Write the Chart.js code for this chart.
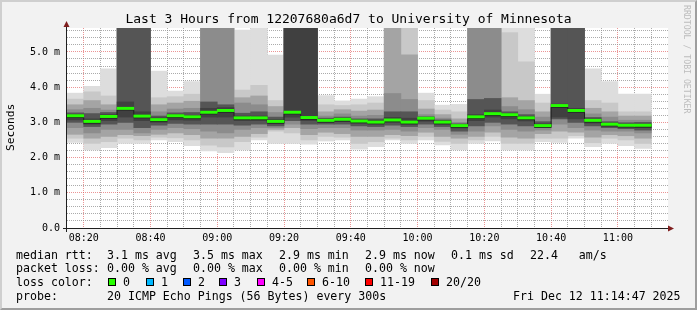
<!DOCTYPE html>
<html lang="en">
<head>
<meta charset="UTF-8">
<title>Last 3 Hours from 12207680a6d7 to University of Minnesota</title>
<script src="https://cdn.jsdelivr.net/npm/chart.js"></script>
<style>
  html, body { margin: 0; padding: 0; }
  body { width: 697px; height: 310px; background: #f2f2f2; position: relative; overflow: hidden;
         font-family: "DejaVu Sans Mono", monospace; color: #000; }
  #frame { position: absolute; left: 0; top: 0; width: 697px; height: 310px; box-sizing: border-box;
           border-top: 2px solid #cfcfcf; border-left: 2px solid #cfcfcf;
           border-right: 2px solid #9e9e9e; border-bottom: 2px solid #9e9e9e; }
  #smoke { position: absolute; left: 0; top: 0; }
  .t { position: absolute; white-space: pre; font-size: 11.6px; line-height: 14px; }
  .box { position: absolute; width: 6px; height: 6px; border: 1px solid #000; }
  #title { position: absolute; left: 0; width: 697px; top: 12px; text-align: center; font-size: 13px; line-height: 14px; white-space: pre; }
  #ylab { position: absolute; left: 5px; top: 103px; width: 12px; height: 48px; font-size: 11.2px; line-height: 12px;
          writing-mode: vertical-rl; transform: rotate(180deg); white-space: pre; color: #000; font-weight: normal; }
  #mark { position: absolute; left: 682px; top: 5px; font-size: 8.2px; line-height: 9px; color: #bdbdbd;
          writing-mode: vertical-rl; white-space: pre; }
</style>
</head>
<body>
<div id="frame"></div>
<canvas id="smoke" width="697" height="310"></canvas>
<div id="title">Last 3 Hours from 12207680a6d7 to University of Minnesota</div>
<div id="ylab">Seconds</div>
<div id="mark">RRDTOOL / TOBI OETIKER</div>

<div class="t" style="left:16px;top:248px">median rtt:</div>
<div class="t" style="left:107px;top:248px">3.1 ms avg</div>
<div class="t" style="left:193px;top:248px">3.5 ms max</div>
<div class="t" style="left:279px;top:248px">2.9 ms min</div>
<div class="t" style="left:365px;top:248px">2.9 ms now</div>
<div class="t" style="left:451px;top:248px">0.1 ms sd</div>
<div class="t" style="left:530px;top:248px">22.4   am/s</div>

<div class="t" style="left:16px;top:261px">packet loss:</div>
<div class="t" style="left:107px;top:261px">0.00 % avg</div>
<div class="t" style="left:193px;top:261px">0.00 % max</div>
<div class="t" style="left:279px;top:261px">0.00 % min</div>
<div class="t" style="left:365px;top:261px">0.00 % now</div>

<div class="t" style="left:16px;top:275px">loss color:</div>
<div id="losskey"></div>

<div class="t" style="left:16px;top:289px">probe:</div>
<div class="t" style="left:107px;top:289px">20 ICMP Echo Pings (56 Bytes) every 300s</div>
<div class="t" style="left:513px;top:289px">Fri Dec 12 11:14:47 2025</div>

<script>
// 5 minute slots (start time), median rtt in ms
const slots = ['08:15','08:20','08:25','08:30','08:35','08:40','08:45','08:50','08:55','09:00',
               '09:05','09:10','09:15','09:20','09:25','09:30','09:35','09:40','09:45','09:50',
               '09:55','10:00','10:05','10:10','10:15','10:20','10:25','10:30','10:35','10:40',
               '10:45','10:50','10:55','11:00','11:05'];
const median = [3.19,3.03,3.17,3.40,3.18,3.08,3.19,3.16,3.29,3.34,
                3.13,3.13,3.03,3.29,3.14,3.06,3.09,3.04,3.01,3.07,
                3.01,3.12,3.01,2.91,3.16,3.25,3.22,3.13,2.91,3.48,
                3.34,3.06,2.95,2.92,2.92];

// smoke bands, outer (lightest) to inner (darkest): low / high ping of each band
const b1Lo = [2.43,2.22,2.28,2.40,2.40,2.50,2.45,2.34,2.19,2.14,2.22,2.50,2.40,2.40,2.38,2.47,2.50,2.24,2.31,2.50,2.40,2.50,2.36,2.22,2.40,2.47,2.22,2.22,2.45,2.43,2.55,2.31,2.40,2.34,2.26];
const b1Hi = [3.83,4.02,4.52,6.00,6.00,4.46,3.89,4.16,6.00,6.00,5.62,6.00,4.91,6.00,6.00,3.76,3.61,3.66,3.73,6.00,6.00,3.83,3.49,3.51,6.00,6.00,6.00,6.00,3.80,6.00,6.00,4.52,4.16,3.80,3.80];
const b2Lo = [2.55,2.40,2.45,2.55,2.50,2.58,2.56,2.50,2.35,2.30,2.45,2.58,2.75,2.70,2.50,2.60,2.58,2.40,2.45,2.55,2.50,2.60,2.46,2.40,2.50,2.60,2.40,2.40,2.55,2.55,2.62,2.42,2.55,2.50,2.40];
const b2Hi = [3.66,3.87,3.75,6.00,6.00,3.70,3.73,3.80,6.00,6.00,3.92,4.05,3.62,6.00,6.00,3.50,3.48,3.50,3.55,6.00,6.00,3.62,3.35,3.30,6.00,6.00,5.55,4.72,3.55,6.00,6.00,3.62,3.55,3.30,3.30];
const b3Lo = [2.66,2.55,2.60,2.65,2.62,2.66,2.70,2.65,2.55,2.55,2.60,2.68,2.80,2.85,2.65,2.72,2.68,2.60,2.60,2.65,2.62,2.72,2.60,2.55,2.60,2.72,2.58,2.55,2.68,2.75,2.72,2.58,2.65,2.62,2.55];
const b3Hi = [3.50,3.62,3.50,6.00,6.00,3.50,3.55,3.60,6.00,6.00,3.70,3.75,3.45,6.00,6.00,3.30,3.36,3.32,3.35,6.00,4.92,3.38,3.22,3.10,6.00,6.00,3.70,3.62,3.30,6.00,6.00,3.40,3.30,3.18,3.18];
const b4Lo = [2.85,2.70,2.80,2.80,2.70,2.80,2.85,2.82,2.75,2.70,2.80,2.85,2.85,2.95,2.82,2.85,2.85,2.78,2.78,2.80,2.75,2.85,2.80,2.66,2.75,2.90,2.80,2.75,2.78,2.95,2.85,2.78,2.75,2.75,2.70];
const b4Hi = [3.36,3.40,3.35,6.00,6.00,3.30,3.38,3.40,6.00,6.00,3.55,3.50,3.28,6.00,6.00,3.18,3.24,3.18,3.20,3.82,3.65,3.22,3.12,3.00,6.00,6.00,3.45,3.36,3.15,6.00,6.00,3.24,3.15,3.06,3.06];
const b5Lo = [3.00,2.88,2.95,3.00,2.85,2.92,2.97,2.95,2.95,2.95,2.92,2.95,2.90,3.05,2.95,2.95,2.95,2.90,2.88,2.92,2.88,2.95,2.88,2.75,2.90,3.00,2.95,2.90,2.85,3.10,3.00,2.90,2.85,2.82,2.78];
const b5Hi = [3.27,3.25,3.28,6.00,6.00,3.18,3.27,3.28,3.58,3.50,3.26,3.30,3.15,6.00,6.00,3.12,3.15,3.10,3.10,3.30,3.30,3.16,3.07,2.96,3.65,3.68,3.30,3.22,3.02,6.00,6.00,3.14,3.02,2.99,3.00];
const b6Lo = [3.07,2.95,3.05,3.15,3.05,3.00,3.07,3.06,3.15,3.15,3.05,3.05,2.96,3.15,3.05,3.00,3.02,2.98,2.96,3.00,2.95,3.03,2.95,2.84,3.05,3.15,3.10,3.04,2.88,3.15,3.10,2.98,2.90,2.87,2.85];
const b6Hi = [3.22,3.10,3.22,3.58,3.30,3.13,3.22,3.20,3.40,3.42,3.18,3.18,3.08,6.00,6.00,3.09,3.12,3.07,3.06,3.14,3.12,3.14,3.05,2.94,3.22,3.35,3.25,3.17,2.96,3.52,3.40,3.10,2.98,2.95,2.95];

const xTickLabels = ['08:20','08:40','09:00','09:20','09:40','10:00','10:20','10:40','11:00'];
const yTickLabels = ['0.0','1.0 m','2.0 m','3.0 m','4.0 m','5.0 m'];

const lossLabels = ['0','1','2','3','4-5','6-10','11-19','20/20'];
const lossColors = ['#26ff00','#00b8ff','#0059ff','#7e00ff','#ff00ff','#ff5500','#ff0000','#a10000'];
const lossX = [108, 146, 183, 219, 257, 307, 365, 431];

// loss colour key
const key = document.getElementById('losskey');
lossLabels.forEach((l, i) => {
  key.innerHTML += `<div class="box" style="left:${lossX[i]}px;top:278px;background:${lossColors[i]}"></div>` +
                   `<div class="t" style="left:${lossX[i] + 15}px;top:275px">${l}</div>`;
});

const toMin = s => { const p = s.split(':'); return (+p[0] - 8) * 60 + (+p[1]); };
const isMajorY = v => Math.abs(v - Math.round(v)) < 1e-6;

const bands = [[b1Lo, b1Hi], [b2Lo, b2Hi], [b3Lo, b3Hi], [b4Lo, b4Hi], [b5Lo, b5Hi], [b6Lo, b6Hi]];
const bandColors = ['#dddddd', '#c8c8c8', '#a4a4a4', '#8c8c8c', '#555555', '#404040'];

const datasets = bands.map(([lo, hi], k) => ({
  type: 'bar',
  data: slots.map((s, i) => ({ x: toMin(s) + 2.5, y: [lo[i], hi[i]] })),
  backgroundColor: bandColors[k],
  borderWidth: 0,
  grouped: false,
  barPercentage: 1,
  categoryPercentage: 1,
  order: 10 - k
}));

// dark median step line
const medLine = slots.map((s, i) => ({ x: toMin(s), y: median[i] - 0.05 }));
medLine.push({ x: toMin(slots[slots.length - 1]) + 5, y: median[median.length - 1] - 0.05 });
datasets.push({
  type: 'line',
  data: medLine,
  stepped: true,
  borderColor: '#202020',
  borderWidth: 1,
  pointRadius: 0,
  order: 2
});

// green median marks (no loss)
datasets.push({
  type: 'bar',
  data: slots.map((s, i) => ({ x: toMin(s) + 2.5, y: [median[i] - 0.035, median[i] + 0.03] })),
  backgroundColor: lossColors[0],
  borderWidth: 0,
  grouped: false,
  barPercentage: 1,
  categoryPercentage: 1,
  order: 1
});

const frame = {
  id: 'frame',
  beforeDraw(chart) {
    const { ctx, chartArea: a } = chart;
    ctx.save();
    ctx.fillStyle = '#ffffff';
    ctx.fillRect(a.left, a.top, a.right - a.left, a.bottom - a.top);
    ctx.restore();
  },
  afterDraw(chart) {
    const { ctx, chartArea: a } = chart;
    const ax = a.left - 0.5, ay = Math.round(a.bottom) + 0.5;
    ctx.save();
    ctx.strokeStyle = '#1f1f1f';
    ctx.lineWidth = 1;
    ctx.beginPath();
    ctx.moveTo(a.left - 4, ay); ctx.lineTo(a.right + 1, ay);
    ctx.moveTo(ax, a.bottom + 4); ctx.lineTo(ax, a.top - 2);
    ctx.stroke();
    ctx.fillStyle = '#801f1f';
    ctx.beginPath();
    ctx.moveTo(ax - 3, a.top - 1); ctx.lineTo(ax + 3, a.top - 1); ctx.lineTo(ax, a.top - 7);
    ctx.closePath(); ctx.fill();
    ctx.beginPath();
    ctx.moveTo(a.right, ay - 3); ctx.lineTo(a.right, ay + 3); ctx.lineTo(a.right + 6, ay);
    ctx.closePath(); ctx.fill();
    ctx.restore();
  }
};

new Chart(document.getElementById('smoke'), {
  data: { datasets },
  options: {
    responsive: false,
    animation: false,
    devicePixelRatio: 1,
    layout: { padding: { top: 28, right: 29, left: 0, bottom: 0 } },
    plugins: { legend: { display: false }, tooltip: { enabled: false }, title: { display: false } },
    scales: {
      x: {
        type: 'linear', min: 15, max: 195, z: 1, offset: false,
        afterBuildTicks: a => { a.ticks = []; for (let v = 20; v < 195; v += 5) a.ticks.push({ value: v }); },
        afterFit: s => { s.height = 82; },
        ticks: {
          autoSkip: false, maxRotation: 0, padding: 4, color: '#000',
          font: { family: 'DejaVu Sans Mono', size: 10 },
          callback: v => xTickLabels.find(l => toMin(l) === v) || ''
        },
        grid: {
          drawTicks: false, lineWidth: 1, offset: false,
          color: c => (c.tick && c.tick.value % 20 === 0) ? 'rgba(222,79,79,0.6)' : 'rgba(143,143,143,0.75)'
        },
        border: { display: false, dash: [1, 1] }
      },
      y: {
        min: 0, max: 5.68, z: 1,
        afterBuildTicks: a => { a.ticks = []; for (let k = 0; k <= 28; k++) a.ticks.push({ value: k / 5 }); },
        afterFit: s => { s.width = 67; },
        ticks: {
          autoSkip: false, padding: 7, color: '#000',
          font: { family: 'DejaVu Sans Mono', size: 10 },
          callback: v => isMajorY(v) ? yTickLabels[Math.round(v)] : ''
        },
        grid: {
          drawTicks: false, lineWidth: 1,
          color: c => (c.tick && isMajorY(c.tick.value)) ? 'rgba(222,79,79,0.6)' : 'rgba(143,143,143,0.75)'
        },
        border: { display: false, dash: [1, 1] }
      }
    }
  },
  plugins: [frame]
});
</script>
</body>
</html>
